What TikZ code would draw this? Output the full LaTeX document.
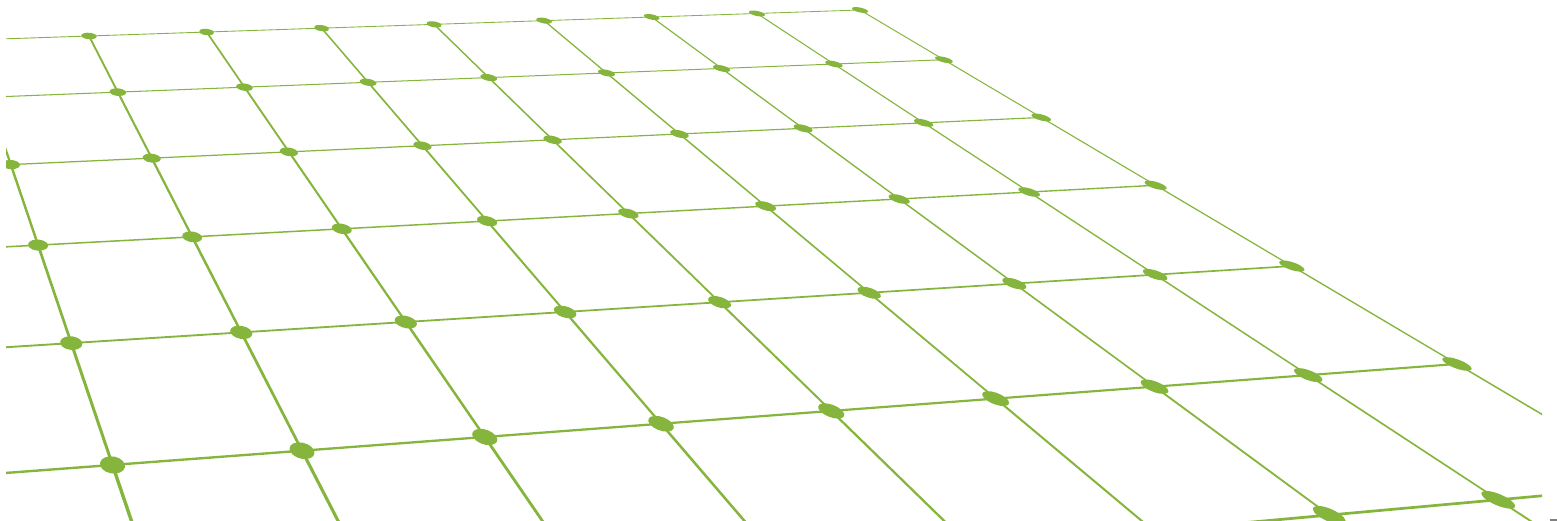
\documentclass[tikz,border=0pt]{standalone}
\usetikzlibrary{backgrounds}
\definecolor{gitter}{RGB}{134,181,62}
\definecolor{randgrau}{RGB}{128,128,128}

% perspektive: punkt (i,j) der ebene -> bild, dazu die ableitungen u (nach i) und v (nach j)
\newcommand\gitterpunkt[2]{%
  \pgfmathsetmacro\gw{1+0.011432*(#1)-0.074737*(#2)}%
  \pgfmathsetmacro\gx{(119.98*(#1)+20.03*(#2)+89)/\gw}%
  \pgfmathsetmacro\gy{(-3.601*(#1)+49.252*(#2)+36)/\gw}%
  \pgfmathsetmacro\gux{0.011432*(10495-(\gx))/\gw}%
  \pgfmathsetmacro\guy{0.011432*(-315-(\gy))/\gw}%
  \pgfmathsetmacro\gvx{-0.074737*(-268-(\gx))/\gw}%
  \pgfmathsetmacro\gvy{-0.074737*(-659-(\gy))/\gw}%
  \pgfmathsetmacro\gk{abs((0.1*\gux)*(0.1*\gvy)-(0.1*\guy)*(0.1*\gvx))}%
}

\begin{document}
\begin{tikzpicture}[x=1pt,y=-1pt,
  knoten/.style={circle,fill=gitter,inner sep=0pt,minimum size=2pt,transform shape},
  linie/.style={draw=gitter,line cap=round}]
\useasboundingbox (0,0) rectangle (1557,521);
\begin{scope}
\clip (6,0) rectangle (1542,521);
% knoten
\foreach \i in {-2,...,7}{
  \foreach \j in {0,...,7}{
    \gitterpunkt{\i}{\j}
    \pgfmathsetmacro\ea{0.063*\gux}
    \pgfmathsetmacro\eb{-0.063*\guy}
    \pgfmathsetmacro\ec{0.063*\gvx}
    \pgfmathsetmacro\ed{-0.063*\gvy}
    \node[knoten,cm={\ea,\eb,\ec,\ed,(\gx,\gy)}] (k\i-\j) at (0,0) {};
  }
}
\end{scope}
\begin{scope}[on background layer]
\clip (6,0) rectangle (1542,521);
% zeilen
\foreach \j in {0,...,6}{
  \foreach \i in {-2,...,6}{
    \pgfmathtruncatemacro\ii{\i+1}
    \gitterpunkt{\i+0.5}{\j}
    \pgfmathsetmacro\lw{1.7*\gk/veclen(\gux,\guy)}
    \draw[linie,line width=\lw pt] (k\i-\j.center) -- (k\ii-\j.center);
  }
}
% spalten
\foreach \i in {-1,...,7}{
  \foreach \j in {0,...,6}{
    \pgfmathtruncatemacro\jj{\j+1}
    \gitterpunkt{\i}{\j+0.5}
    \pgfmathsetmacro\lw{1.7*\gk/veclen(\gvx,\gvy)}
    \draw[linie,line width=\lw pt] (k\i-\j.center) -- (k\i-\jj.center);
  }
}
\end{scope}
\fill[randgrau] (1550,518.5) rectangle (1557,521);
\end{tikzpicture}
\end{document}
